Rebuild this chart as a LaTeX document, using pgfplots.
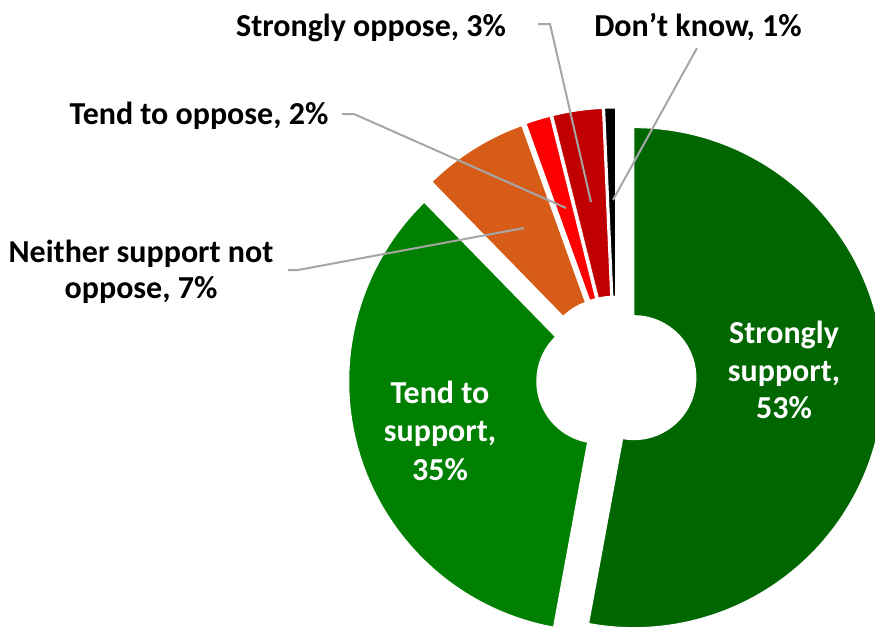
\documentclass[border=0pt]{standalone}
\usepackage{pgfplots}
\pgfplotsset{compat=1.18}
\usepackage{pgfplotstable}
\usetikzlibrary{calc}
\usepackage{fontspec}
\setmainfont{Carlito}

\definecolor{ssgreen}{RGB}{0,102,0}
\definecolor{tsgreen}{RGB}{0,128,0}
\definecolor{neither}{RGB}{214,92,24}
\definecolor{toppose}{RGB}{255,0,0}
\definecolor{soppose}{RGB}{192,0,0}
\definecolor{dknow}{RGB}{0,0,0}
\definecolor{leader}{RGB}{166,166,166}

% values (labels show rounded percentages)
\pgfplotstableread{
idx value pct
0 52.9 53
1 34.8 35
2 6.8 7
3 1.6 2
4 3.2 3
5 0.7 1
}\pietable

\newcommand\wedgeslice[2]{%
  \fill[#2, draw=white, line width=0.5pt]
    ($(axis cs:616,376)+(\csname am#1\endcsname:9pt)+(\csname aa#1\endcsname:31pt)$) --
    ($(axis cs:616,376)+(\csname am#1\endcsname:9pt)+(\csname aa#1\endcsname:125pt)$)
    arc[start angle=\csname aa#1\endcsname, end angle=\csname ab#1\endcsname, radius=125pt] --
    ($(axis cs:616,376)+(\csname am#1\endcsname:9pt)+(\csname ab#1\endcsname:31pt)$)
    arc[start angle=\csname ab#1\endcsname, end angle=\csname aa#1\endcsname, radius=31pt] -- cycle;
}

\begin{document}
\def\cum{0}%
\foreach \i in {0,...,5}{%
  \pgfplotstablegetelem{\i}{value}\of\pietable
  \pgfmathsetmacro\e{\cum+3.6*\pgfplotsretval}%
  \pgfmathsetmacro\tA{90-\cum}%
  \pgfmathsetmacro\tB{90-\e}%
  \pgfmathsetmacro\tM{90-(\cum+\e)/2}%
  \expandafter\xdef\csname aa\i\endcsname{\tA}%
  \expandafter\xdef\csname ab\i\endcsname{\tB}%
  \expandafter\xdef\csname am\i\endcsname{\tM}%
  \xdef\cum{\e}%
}%
\begin{tikzpicture}[lab/.style={font=\fontsize{16}{19}\selectfont\bfseries, inner sep=0pt, anchor=base}]
\begin{axis}[
  x=0.5pt, y=0.5pt,
  xmin=0, xmax=875, ymin=0, ymax=628,
  y dir=reverse,
  hide axis, clip=true,
]
\wedgeslice{0}{ssgreen}
\wedgeslice{1}{tsgreen}
\wedgeslice{2}{neither}
\wedgeslice{3}{toppose}
\wedgeslice{4}{soppose}
\wedgeslice{5}{dknow}

% leader lines
\draw[leader, line width=1pt] (axis cs:538,24) -- (axis cs:550,24) -- (axis cs:591,202);
\draw[leader, line width=1pt] (axis cs:697,48) -- (axis cs:613,200);
\draw[leader, line width=1pt] (axis cs:342,114) -- (axis cs:354,114) -- (axis cs:566,208);
\draw[leader, line width=1pt] (axis cs:288,270) -- (axis cs:298,270) -- (axis cs:524,228);

% outside labels
\node[lab] at (axis cs:371,36) {Strongly oppose, 3\%};
\node[lab] at (axis cs:698,36) {Don’t know, 1\%};
\node[lab] at (axis cs:199,124) {Tend to oppose, 2\%};
\node[lab] at (axis cs:141,262) {Neither support not};
\node[lab] at (axis cs:141,298) {oppose, 7\%};

% inside labels
\node[lab, text=white] at (axis cs:440,403) {Tend to};
\node[lab, text=white] at (axis cs:440,441) {support,};
\node[lab, text=white] at (axis cs:440,480) {35\%};
\node[lab, text=white] at (axis cs:784,343) {Strongly};
\node[lab, text=white] at (axis cs:784,381) {support,};
\node[lab, text=white] at (axis cs:784,418) {53\%};
\end{axis}
\pgfresetboundingbox
\path (current axis.south west) rectangle (current axis.north east);
\end{tikzpicture}
\end{document}
